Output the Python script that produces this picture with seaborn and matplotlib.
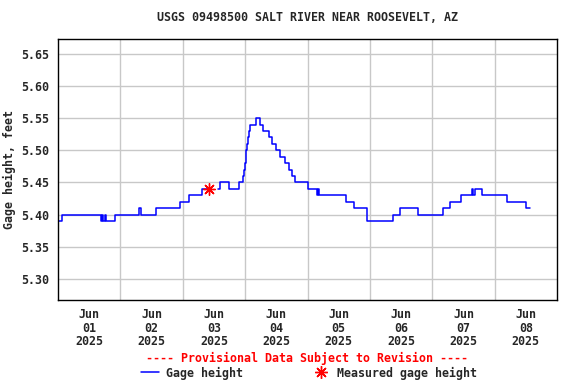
import matplotlib
matplotlib.use('Agg')
import matplotlib.pyplot as plt
import matplotlib.dates as mdates
from matplotlib.lines import Line2D
import seaborn as sns
import pandas as pd

# USGS 09498500 gage height (hours after Jun 01 00:00 -> feet)
start = pd.Timestamp('2025-06-01 00:00')

seg1_hours = [0.0, 1.5, 16.5, 17.0, 17.25, 18.25, 18.5, 22.0, 31.25, 32.0,
              37.75, 46.75, 50.5, 55.25, 57.75]
seg1_ft = [5.39, 5.40, 5.39, 5.40, 5.39, 5.40, 5.39, 5.40, 5.41, 5.40,
           5.41, 5.42, 5.43, 5.44, 5.44]

seg2_hours = [61.75, 62.25, 65.75, 69.75, 71.25, 71.75, 72.0, 72.25, 72.5, 72.75,
              73.25, 73.5, 74.0, 76.0, 77.75, 79.0, 81.25, 82.25, 84.0, 85.25,
              87.5, 88.75, 90.0, 91.25, 96.0, 99.75, 100.0, 100.25, 110.75, 114.0,
              118.75, 119.0, 129.0, 131.75, 138.5, 148.0, 151.0, 155.0, 159.25, 159.75,
              160.5, 163.0, 172.75, 180.25, 181.5]
seg2_ft = [5.44, 5.45, 5.44, 5.45, 5.46, 5.47, 5.48, 5.49, 5.50, 5.51,
           5.52, 5.53, 5.54, 5.55, 5.54, 5.53, 5.52, 5.51, 5.50, 5.49,
           5.48, 5.47, 5.46, 5.45, 5.44, 5.43, 5.44, 5.43, 5.42, 5.41,
           5.40, 5.39, 5.40, 5.41, 5.40, 5.41, 5.42, 5.43, 5.44, 5.43,
           5.44, 5.43, 5.42, 5.41, 5.41]

meas_hours = [58.25]
meas_ft = [5.44]

y_ticks = [5.30, 5.35, 5.40, 5.45, 5.50, 5.55, 5.60, 5.65]
day_labels = ['Jun\n%02d\n2025' % d for d in range(1, 9)]

# build frames
gage = pd.DataFrame({
    'time': [start + pd.Timedelta(hours=h) for h in seg1_hours + seg2_hours],
    'ft': seg1_ft + seg2_ft,
    'seg': [1] * len(seg1_hours) + [2] * len(seg2_hours),
})
meas = pd.DataFrame({
    'time': [start + pd.Timedelta(hours=h) for h in meas_hours],
    'ft': meas_ft,
})

sns.set_style('white')
plt.rcParams['font.family'] = ['DejaVu Sans Mono']
plt.rcParams['font.weight'] = 'bold'
fs = 8.4

fig = plt.figure(figsize=(5.76, 3.84), dpi=100)
ax = fig.add_axes([58 / 576, 1 - 300 / 384, 499 / 576, 261 / 384])

sns.lineplot(data=gage, x='time', y='ft', units='seg', estimator=None,
             drawstyle='steps-post', color='#0000ff', linewidth=1.1, ax=ax)
sns.scatterplot(data=meas, x='time', y='ft', marker=(8, 2, 0), s=70,
                color='red', linewidth=1.0, ax=ax, zorder=5)

ax.set_xlim(start, start + pd.Timedelta(days=8))
ax.set_ylim(5.267, 5.673)

# gridlines at midnight, labels at noon
ax.set_xticks([start + pd.Timedelta(days=d) for d in range(1, 8)])
ax.set_xticks([start + pd.Timedelta(days=d, hours=12) for d in range(8)], minor=True)
ax.set_xticklabels([])
ax.set_xticklabels(day_labels, minor=True, fontsize=fs, fontweight='bold',
                   linespacing=1.05)
ax.set_yticks(y_ticks)
ax.set_yticklabels(['%.2f' % v for v in y_ticks], fontsize=fs, fontweight='bold')
ax.tick_params(axis='both', which='both', length=0)
ax.tick_params(axis='x', which='minor', pad=6)
ax.tick_params(axis='y', pad=6)

ax.grid(True, which='major', color='#c8c8c8', linewidth=1.0)
for s in ax.spines.values():
    s.set_color('black')
    s.set_linewidth(1.0)

ax.set_xlabel('')
ax.set_ylabel('Gage height, feet', fontsize=fs, fontweight='bold', labelpad=4)
ax.set_title('USGS 09498500 SALT RIVER NEAR ROOSEVELT, AZ', fontsize=fs,
             fontweight='bold', pad=13)

fig.text(307 / 576, 1 - 358 / 384, '---- Provisional Data Subject to Revision ----',
         color='red', fontsize=fs, fontweight='bold', ha='center', va='center')

handles = [Line2D([], [], color='#0000ff', linewidth=1.1),
           Line2D([], [], color='red', linestyle='none', marker=(8, 2, 0),
                  markersize=9, markeredgewidth=1.0)]
fig.legend(handles, ['Gage height', 'Measured gage height'], ncol=2,
           loc='center', bbox_to_anchor=(309 / 576, 1 - 373 / 384), frameon=False,
           prop={'size': fs, 'weight': 'bold'}, handlelength=1.5,
           handletextpad=0.6, columnspacing=6.0, borderpad=0, borderaxespad=0)

fig.savefig('out.png', dpi=100)
